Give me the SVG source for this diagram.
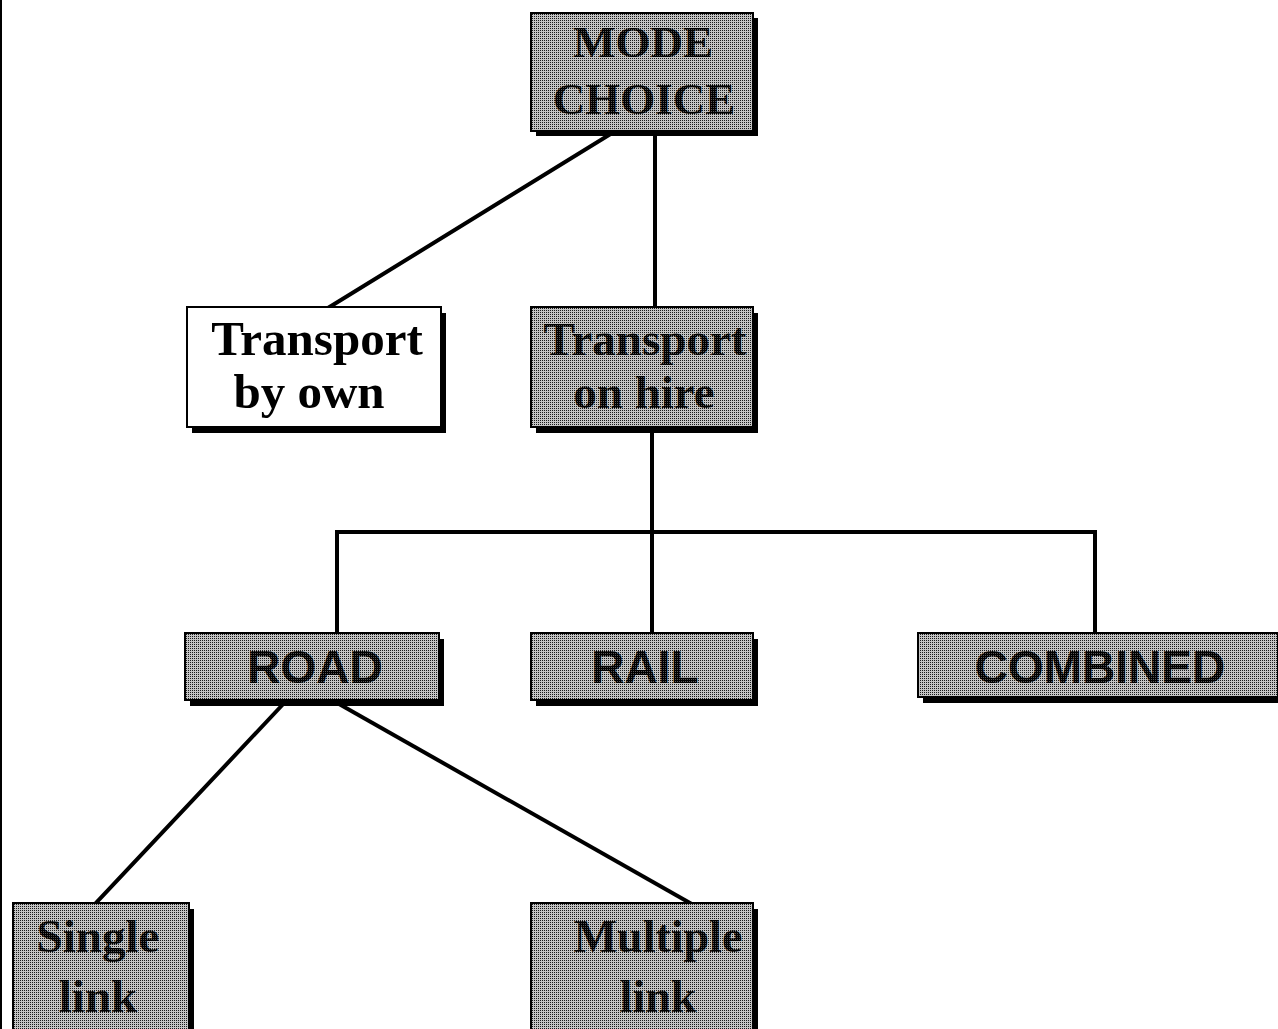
<svg xmlns="http://www.w3.org/2000/svg" width="1278" height="1029" viewBox="0 0 1278 1029">
<defs>
<pattern id="dither" x="0" y="0" width="2" height="2" patternUnits="userSpaceOnUse">
<rect width="2" height="2" fill="#c4c4c4"/>
<rect width="1" height="1" fill="#1a1a1a"/>
</pattern>
<pattern id="dtext" x="0" y="0" width="2" height="2" patternUnits="userSpaceOnUse">
<rect width="2" height="2" fill="#000"/>
<rect x="1" y="1" width="1" height="1" fill="#555"/>
</pattern>
</defs>
<style>
.shadow{fill:#000}
.box{fill:url(#dither);stroke:#000;stroke-width:2}
.wbox{fill:#fff;stroke:#000;stroke-width:2}
.serif{font-family:"Liberation Serif","Times New Roman",serif;font-weight:bold;text-anchor:middle}
.sans{font-family:"Liberation Sans",Arial,sans-serif;font-weight:bold;text-anchor:middle}
.dark{fill:url(#dtext)}
.black{fill:#000}
.conn{stroke:#000;stroke-width:4;fill:none;stroke-linecap:square}
</style>
<rect width="1278" height="1029" fill="#fff"/>
<line x1="1" y1="0" x2="1" y2="1029" stroke="#000" stroke-width="2"/>
<g id="connectors">
<line class="conn" x1="617" y1="130" x2="328" y2="308"/>
<line class="conn" x1="655" y1="130" x2="655" y2="308"/>
<line class="conn" x1="652" y1="428" x2="652" y2="633"/>
<polyline class="conn" points="337,633 337,532 1095,532 1095,633"/>
<line class="conn" x1="287" y1="700" x2="96" y2="903"/>
<line class="conn" x1="332" y1="700" x2="690" y2="903"/>
</g>
<g id="mode-choice">
<rect class="shadow" x="536" y="18" width="222" height="118"/>
<rect class="box" x="531" y="13" width="222" height="118"/>
<text class="serif dark" x="643" y="57" font-size="45">MODE</text>
<text class="serif dark" x="644" y="114" font-size="45">CHOICE</text>
</g>
<g id="transport-by-own">
<rect class="shadow" x="192" y="313" width="254" height="120"/>
<rect class="wbox" x="187" y="307" width="254" height="120"/>
<text class="serif black" x="317" y="355" font-size="49">Transport</text>
<text class="serif black" x="309" y="408" font-size="49">by own</text>
</g>
<g id="transport-on-hire">
<rect class="shadow" x="536" y="313" width="222" height="120"/>
<rect class="box" x="531" y="307" width="222" height="120"/>
<text class="serif dark" x="645" y="355" font-size="47">Transport</text>
<text class="serif dark" x="644" y="408" font-size="47">on hire</text>
</g>
<g id="road">
<rect class="shadow" x="190" y="639" width="254" height="67"/>
<rect class="box" x="185" y="633" width="254" height="67"/>
<text class="sans dark" x="315" y="683" font-size="46">ROAD</text>
</g>
<g id="rail">
<rect class="shadow" x="536" y="639" width="222" height="67"/>
<rect class="box" x="531" y="633" width="222" height="67"/>
<text class="sans dark" x="645" y="683" font-size="46">RAIL</text>
</g>
<g id="combined">
<rect class="shadow" x="923" y="639" width="360" height="64"/>
<rect class="box" x="918" y="633" width="360" height="64"/>
<text class="sans dark" x="1100" y="683" font-size="46">COMBINED</text>
</g>
<g id="single-link">
<rect class="shadow" x="18" y="909" width="176" height="130"/>
<rect class="box" x="13" y="903" width="176" height="130"/>
<text class="serif dark" x="98" y="952" font-size="47">Single</text>
<text class="serif dark" x="98" y="1012" font-size="47">link</text>
</g>
<g id="multiple-link">
<rect class="shadow" x="536" y="909" width="222" height="130"/>
<rect class="box" x="531" y="903" width="222" height="130"/>
<text class="serif dark" x="658" y="952" font-size="46">Multiple</text>
<text class="serif dark" x="658" y="1012" font-size="46">link</text>
</g>
</svg>
